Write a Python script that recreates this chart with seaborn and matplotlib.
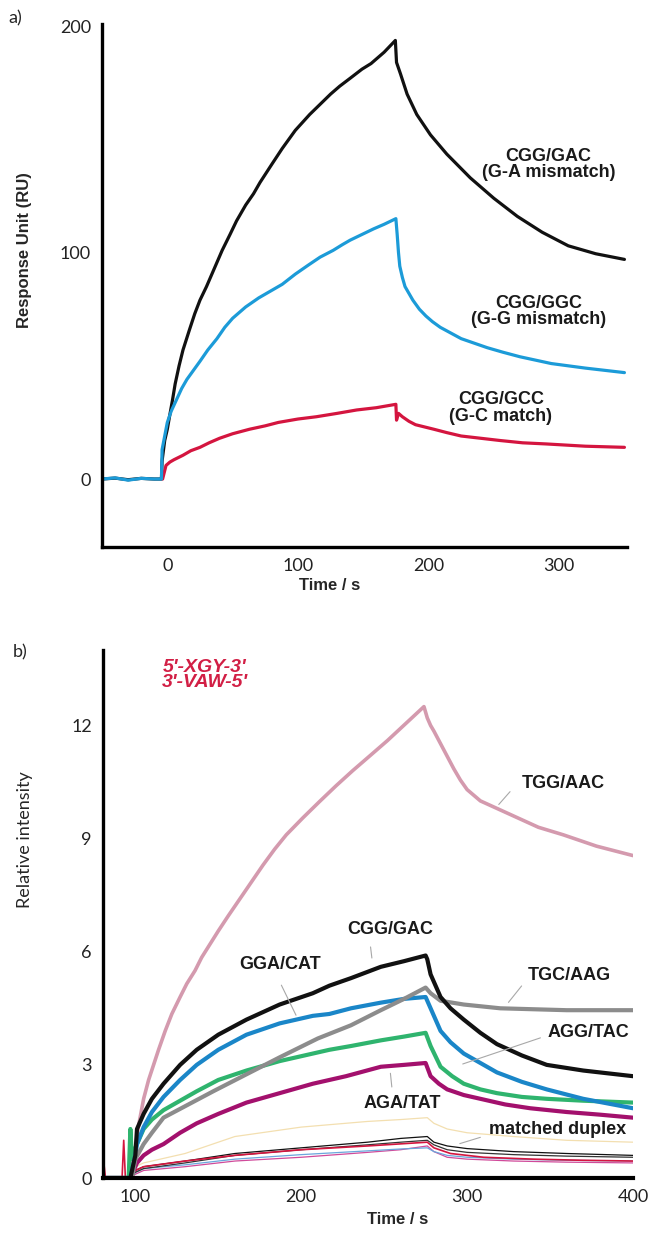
import matplotlib
matplotlib.use("Agg")
import matplotlib.pyplot as plt
import seaborn as sns

# ---------------- panel a: SPR sensorgrams ----------------
a_black_t = [-50, -40, -30, -20, -10, -5, -4.5, -4, -2, 0, 1.5, 4, 6, 9, 12, 17, 21, 25, 30, 36, 42, 48,
             53, 60, 66, 71, 80, 88, 98, 109, 117, 125, 132, 140, 149, 156, 166, 174.6,
             175.5, 178.5, 183.6, 191, 201.5, 214, 232, 250, 268, 287, 307, 328, 350]
a_black_v = [0, 0.4, -0.3, 0.3, 0, 0, 0, 8, 17, 22, 27, 35, 42, 50, 57, 66, 73, 79, 85, 93, 101, 108,
             114, 121, 126, 131, 139, 146, 154, 161, 165.5, 170, 173.5, 177, 181, 183.5, 188.5, 193.7,
             184, 179, 170, 161, 152, 143.5, 133, 124, 116, 109, 103, 99.5, 97]

a_blue_t = [-50, -40, -30, -20, -10, -5, -4.5, -4, -2, 0, 3, 7, 11, 15, 20, 25, 31, 38, 44, 50, 60, 70,
            79, 88, 98, 108, 117, 127, 134, 140, 149, 158, 166, 175,
            176, 177, 178, 180, 182, 185, 188, 193, 198, 203, 209, 217, 225, 235, 245, 257, 270, 282,
            294, 307, 320, 335, 350]
a_blue_v = [0, 0.5, -0.5, 0.3, 0, 0, 0, 13, 19, 25, 30, 35, 40, 44, 48, 52, 57, 62, 67, 71, 76, 80,
            83, 86, 90.5, 94.5, 98, 101, 103.5, 105.5, 108, 110.5, 112.5, 115,
            108, 100, 94, 89, 85, 82, 79, 75, 72, 69.5, 67, 64.5, 62, 60, 58, 56, 54, 52.5,
            51, 50, 49, 48, 47]

a_red_t = [-3.6, -1, 2, 5, 12, 18, 25, 32, 40, 50, 63, 75, 85, 100, 114, 130, 145, 160, 175,
           175.5, 177, 180, 185, 190, 197, 204, 214, 225, 240, 255, 272, 290, 320, 350]
a_red_v = [0, 6, 7.5, 8.5, 10.5, 12.5, 14, 16, 18, 20, 22, 23.5, 25, 26.5, 27.5, 29, 30.5, 31.5, 33,
           26, 29, 27.5, 25.5, 24, 23, 22, 20.5, 19, 18, 17, 16, 15.5, 14.5, 14]

# ---------------- panel b: relative intensity ----------------
b_pink_t = [80, 97, 100, 102, 105, 108, 111, 114, 118, 122, 127, 131, 136, 140, 145, 150, 156, 163,
            170, 177, 184, 191, 201, 211, 221, 231, 241, 252, 263, 274,
            276, 278, 280, 283, 286, 289, 292, 296, 300, 304, 308, 313, 318, 328, 343, 358, 378, 400]
b_pink_v = [0, 0, 0.8, 1.4, 2.1, 2.6, 3.0, 3.4, 3.9, 4.35, 4.8, 5.15, 5.5, 5.85, 6.2, 6.55, 6.95, 7.4,
            7.85, 8.3, 8.72, 9.1, 9.55, 9.98, 10.4, 10.8, 11.18, 11.6, 12.05, 12.5,
            12.2, 12.0, 11.85, 11.6, 11.35, 11.1, 10.85, 10.55, 10.3, 10.15, 10.0, 9.9, 9.8, 9.6, 9.3,
            9.1, 8.8, 8.55]

b_black_t = [80, 97, 100, 101, 105, 110, 117, 127, 137, 150, 167, 187, 207, 217, 230, 248, 262, 275,
             276, 278, 284, 290, 298, 308, 318, 333, 348, 370, 400]
b_black_v = [0, 0, 0.6, 1.3, 1.7, 2.1, 2.5, 3.0, 3.4, 3.8, 4.2, 4.6, 4.9, 5.1, 5.3, 5.6, 5.75, 5.9,
             5.8, 5.4, 4.8, 4.5, 4.2, 3.85, 3.55, 3.25, 3.0, 2.85, 2.7]

b_blue_t = [80, 97, 100, 101, 105, 110, 117, 127, 137, 150, 167, 187, 207, 217, 230, 248, 262, 275,
            278, 284, 290, 298, 308, 318, 333, 348, 370, 400]
b_blue_v = [0, 0, 0.6, 0.9, 1.35, 1.75, 2.15, 2.6, 3.0, 3.4, 3.8, 4.1, 4.3, 4.35, 4.5, 4.65, 4.75, 4.8,
            4.5, 3.9, 3.6, 3.3, 3.05, 2.8, 2.55, 2.35, 2.1, 1.85]

b_gray_t = [80, 98, 100, 105, 110, 117, 147, 167, 187, 210, 230, 248, 262, 275, 278, 284, 298, 320, 360, 400]
b_gray_v = [0, 0, 0.5, 0.9, 1.2, 1.6, 2.3, 2.75, 3.2, 3.7, 4.05, 4.45, 4.75, 5.05, 4.9, 4.7, 4.6, 4.5, 4.45, 4.45]

b_green_t = [80, 96, 97, 98, 100, 105, 110, 117, 127, 137, 150, 167, 187, 207, 217, 230, 248, 262, 275,
             278, 284, 291, 298, 308, 318, 333, 348, 370, 400]
b_green_v = [0, 0, 1.3, 0.5, 0.8, 1.3, 1.55, 1.8, 2.05, 2.3, 2.6, 2.85, 3.1, 3.3, 3.4, 3.5, 3.65, 3.75, 3.85,
             3.5, 2.95, 2.7, 2.5, 2.35, 2.25, 2.15, 2.1, 2.05, 2.0]

b_mag_t = [80, 97, 99, 101, 105, 110, 117, 127, 137, 150, 167, 187, 207, 227, 248, 262, 275,
           278, 283, 288, 298, 308, 323, 338, 360, 380, 400]
b_mag_v = [0, 0, 0.2, 0.4, 0.6, 0.75, 0.9, 1.2, 1.45, 1.7, 2.0, 2.25, 2.5, 2.7, 2.95, 3.0, 3.05,
           2.7, 2.5, 2.35, 2.2, 2.1, 1.95, 1.85, 1.75, 1.68, 1.6]

# matched duplexes (thin lines)
dup_t = [97, 100, 105, 130, 160, 200, 240, 260, 276, 280, 288, 300, 328, 360, 400]
dup_black1 = [0, 0.2, 0.3, 0.45, 0.65, 0.8, 0.95, 1.05, 1.1, 0.95, 0.85, 0.78, 0.7, 0.65, 0.6]
dup_black2 = [0, 0.15, 0.25, 0.4, 0.6, 0.75, 0.88, 0.95, 1.0, 0.88, 0.75, 0.68, 0.62, 0.58, 0.55]
dup_blue = [0, 0.15, 0.25, 0.35, 0.5, 0.62, 0.72, 0.77, 0.8, 0.7, 0.6, 0.55, 0.5, 0.47, 0.45]
dup_pink = [0, 0.1, 0.2, 0.3, 0.45, 0.55, 0.68, 0.75, 0.85, 0.7, 0.55, 0.5, 0.45, 0.42, 0.4]
dup_yellow = [0, 0.3, 0.4, 0.65, 1.1, 1.35, 1.5, 1.55, 1.6, 1.45, 1.3, 1.2, 1.1, 1.0, 0.95]
red_t = [80, 81, 82, 92, 93, 94, 97, 100, 105, 130, 160, 200, 240, 276, 280, 290, 310, 340, 370, 400]
red_v = [0, 0.4, 0, 0, 1.0, 0, 0, 0.2, 0.3, 0.45, 0.6, 0.75, 0.85, 0.95, 0.8, 0.65, 0.55, 0.5, 0.47, 0.45]

sns.set_style("white")
plt.rcParams['font.family'] = ['Lato', 'DejaVu Sans']
BOLD = ['Liberation Sans', 'DejaVu Sans']

fig = plt.figure(figsize=(6.51, 12.33), dpi=100)
ax_a = fig.add_axes([0.1567, 0.5564, 0.8065, 0.4242])
ax_b = fig.add_axes([0.1582, 0.0446, 0.8141, 0.4282])


def line(ax, x, y, color, lw):
    sns.lineplot(x=x, y=y, ax=ax, color=color, linewidth=lw, estimator=None, sort=False, legend=False)


def style_axes(ax):
    sns.despine(ax=ax)
    for s in ['left', 'bottom']:
        ax.spines[s].set_linewidth(2.4)
        ax.spines[s].set_color('black')
    ax.tick_params(direction='in', length=6, width=0.8, color='#b0b0b0',
                   labelsize=13, pad=8, labelcolor='#222222')


# panel a
line(ax_a, a_black_t, a_black_v, '#111111', 2.3)
line(ax_a, a_red_t, a_red_v, '#d4153f', 2.3)
line(ax_a, a_blue_t, a_blue_v, '#1c9bd8', 2.3)
ax_a.set_xlim(-50, 352)
ax_a.set_ylim(-30, 201)
ax_a.set_xticks([0, 100, 200, 300])
ax_a.set_yticks([0, 100, 200])
ax_a.set_xlabel('')
ax_a.set_ylabel('')
style_axes(ax_a)

lab = dict(ha='center', va='center', fontsize=13, fontweight='bold', family=BOLD,
           linespacing=0.95, color='#1a1a1a')
ax_a.text(292, 139, 'CGG/GAC\n(G-A mismatch)', **lab)
ax_a.text(284.6, 74, 'CGG/GGC\n(G-G mismatch)', **lab)
ax_a.text(255.4, 31.3, 'CGG/GCC\n(G-C match)', **lab)

# panel b
for yv, c in [(dup_yellow, '#f3dfb0'), (dup_pink, '#d04a9a'), (dup_blue, '#6aa6dc'),
              (dup_black2, '#333333'), (dup_black1, '#111111')]:
    line(ax_b, dup_t, yv, c, 0.9)
line(ax_b, red_t, red_v, '#d4153f', 1.2)
line(ax_b, b_pink_t, b_pink_v, '#d49aae', 2.6)
line(ax_b, b_mag_t, b_mag_v, '#a3106d', 3.0)
line(ax_b, b_green_t, b_green_v, '#2fb46e', 3.0)
line(ax_b, b_blue_t, b_blue_v, '#1a86c8', 3.0)
line(ax_b, b_gray_t, b_gray_v, '#8c8c8c', 3.0)
line(ax_b, b_black_t, b_black_v, '#111111', 3.0)
ax_b.set_xlim(80.5, 400)
ax_b.set_ylim(0, 14)
ax_b.set_xticks([100, 200, 300, 400])
ax_b.set_yticks([0, 3, 6, 9, 12])
ax_b.set_xlabel('')
ax_b.set_ylabel('')
style_axes(ax_b)
ax_b.spines['bottom'].set_linewidth(3)

ann = [('TGG/AAC', (358, 10.45), (327, 10.3), (318, 9.85)),
       ('CGG/GAC', (253.6, 6.58), (241.6, 6.2), (242.8, 5.76)),
       ('GGA/CAT', (187.3, 5.66), (187.3, 5.18), (197.6, 4.25)),
       ('TGC/AAG', (361.8, 5.37), (333.9, 5.15), (323.9, 4.6)),
       ('AGG/TAC', (373.3, 3.87), (345.8, 3.74), (295.8, 3.0)),
       ('AGA/TAT', (260.8, 1.97), (254.8, 2.34), (253.6, 2.85)),
       ('matched duplex', (354.8, 1.29), (309.6, 1.1), (294, 0.89))]
for txt, pos, p0, p1 in ann:
    ax_b.text(pos[0], pos[1], txt, ha='center', va='center', fontsize=13,
              fontweight='bold', family=BOLD, color='#1a1a1a')
    ax_b.annotate('', xy=p1, xytext=p0,
                  arrowprops=dict(arrowstyle='-', color='#a8a8a8', lw=0.8))

# figure texts
fig.text(15 / 651, 1 - 18 / 1233, 'a)', fontsize=13, ha='center', va='center')
fig.text(20 / 651, 1 - 652 / 1233, 'b)', fontsize=13, ha='center', va='center')
fig.text(25 / 651, 1 - 250 / 1233, 'Response Unit (RU)', rotation=90, fontsize=12,
         fontweight='bold', family=BOLD, ha='center', va='center')
fig.text(25 / 651, 1 - 840 / 1233, 'Relative intensity', rotation=90, fontsize=13,
         ha='center', va='center')
fig.text(330 / 651, 1 - 585 / 1233, 'Time / s', fontsize=12, fontweight='bold',
         family=BOLD, ha='center', va='center')
fig.text(398 / 651, 1 - 1220 / 1233, 'Time / s', fontsize=12, fontweight='bold',
         family=BOLD, ha='center', va='center')
fig.text(205 / 651, 1 - 675 / 1233, "5'-XGY-3'\n3'-VAW-5'", fontsize=14, fontweight='bold',
         style='italic', color='#d21f45', family=BOLD, ha='center', va='center', linespacing=0.85)

fig.savefig('out.png', dpi=100)
